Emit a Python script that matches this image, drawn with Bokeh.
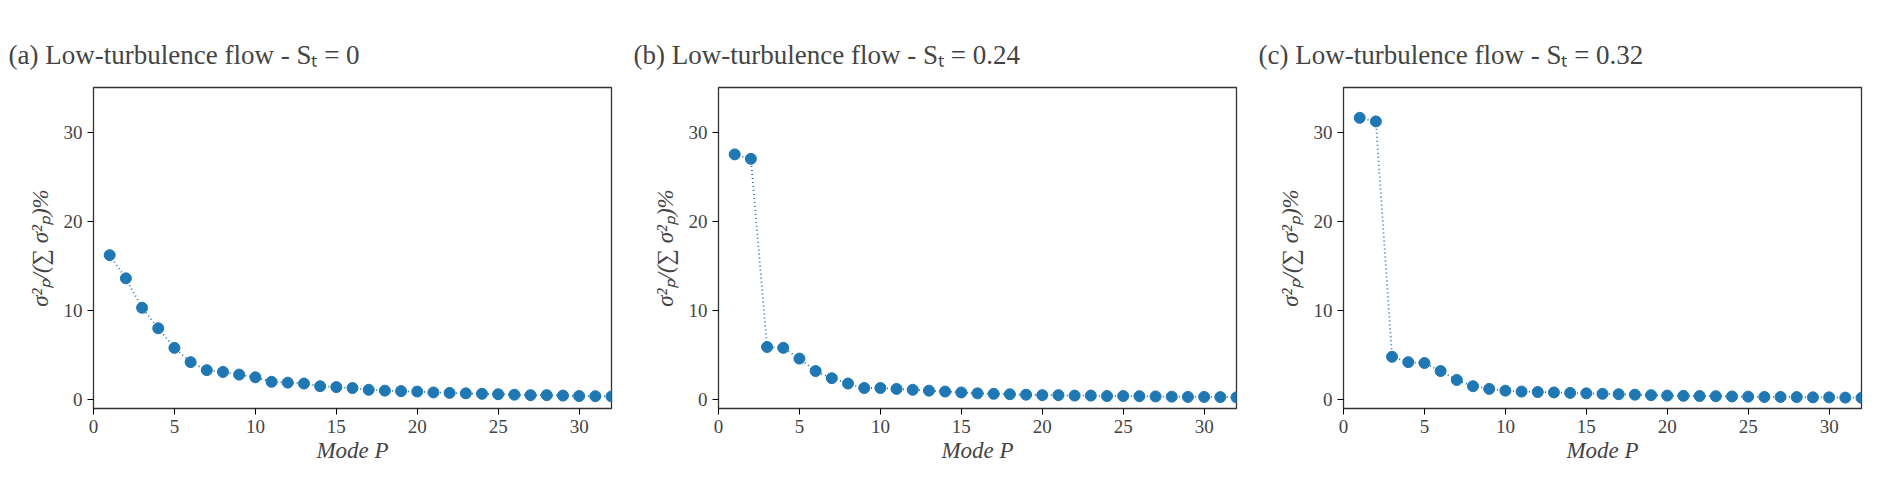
from bokeh.plotting import figure
from bokeh.layouts import row
from bokeh.embed import file_html
from bokeh.resources import INLINE

modes = list(range(1, 33))
vals_a = [16.2,13.6,10.3,8.0,5.8,4.2,3.3,3.1,2.8,2.5,2.0,1.9,1.8,1.5,1.4,1.3,1.1,1.0,0.95,0.9,0.8,0.75,0.7,0.65,0.6,0.55,0.5,0.5,0.45,0.4,0.38,0.35]
vals_b = [27.5,27.0,5.9,5.8,4.6,3.2,2.4,1.8,1.3,1.3,1.2,1.1,1.0,0.9,0.8,0.7,0.65,0.6,0.55,0.5,0.5,0.45,0.45,0.4,0.4,0.38,0.35,0.33,0.3,0.3,0.28,0.25]
vals_c = [31.6,31.2,4.8,4.2,4.1,3.2,2.2,1.5,1.2,1.0,0.9,0.85,0.8,0.75,0.7,0.65,0.6,0.55,0.5,0.45,0.42,0.4,0.38,0.35,0.33,0.3,0.3,0.28,0.25,0.25,0.22,0.2]
titles = ["(a) Low-turbulence flow - Sₜ = 0",
          "(b) Low-turbulence flow - Sₜ = 0.24",
          "(c) Low-turbulence flow - Sₜ = 0.32"]
FONT = "Liberation Serif"
C = "#1f77b4"

figs = []
for t, v in zip(titles, [vals_a, vals_b, vals_c]):
    p = figure(width=625, height=468, x_range=(0, 32), y_range=(-1, 35),
               output_backend="svg", toolbar_location=None,
               min_border_left=93, min_border_right=14, min_border_top=87, min_border_bottom=60)
    p.title.text = t
    p.title.text_font = FONT
    p.title.text_font_size = "27px"
    p.title.text_font_style = "normal"
    p.title.offset = -85
    p.title.standoff = 35
    p.line(modes, v, line_color=C, line_dash="1 3", line_width=1.8)
    p.scatter(modes, v, size=11, color=C)
    p.grid.visible = False
    p.outline_line_color = "#333333"
    p.outline_line_width = 1.3
    p.xaxis.ticker = [0, 5, 10, 15, 20, 25, 30]
    p.yaxis.ticker = [0, 10, 20, 30]
    p.xaxis.axis_label = "Mode P"
    p.yaxis.axis_label = "σ²ₚ/(∑ σ²ₚ)%"
    for ax in (p.xaxis[0], p.yaxis[0]):
        ax.axis_label_text_font = FONT
        ax.axis_label_text_font_style = "italic"
        ax.axis_label_text_font_size = "23px"
        ax.major_label_text_font = FONT
        ax.major_label_text_font_size = "19px"
        ax.minor_tick_line_color = None
        ax.major_tick_out = 6
        ax.major_tick_in = 0
        ax.axis_line_color = "#333333"
    p.xaxis.axis_label_standoff = 2
    p.yaxis.axis_label_standoff = 8
    figs.append(p)

layout = row(*figs)
open("out.html", "w").write(file_html(layout, INLINE))
